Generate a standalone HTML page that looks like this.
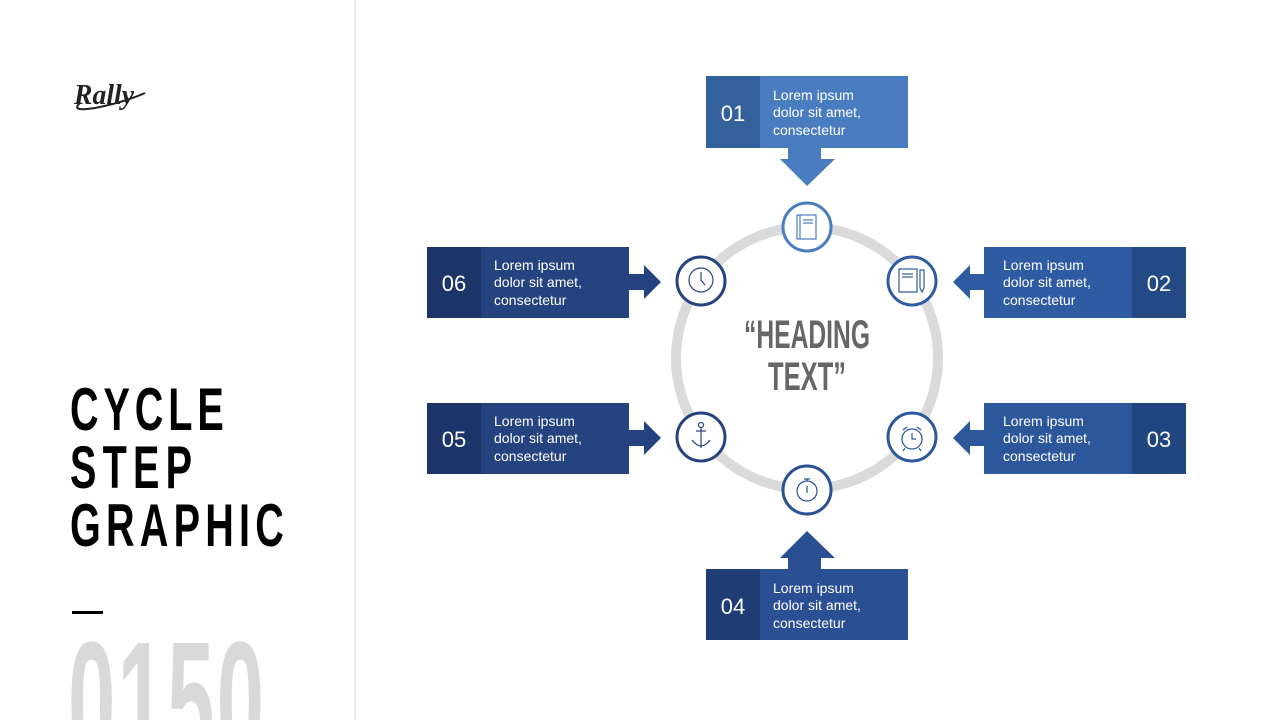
<!DOCTYPE html>
<html><head><meta charset="utf-8"><style>
html,body{margin:0;background:#fff;width:1280px;height:720px;overflow:hidden;}
svg{display:block}
</style></head><body>
<svg width="1280" height="720" viewBox="0 0 1280 720" xmlns="http://www.w3.org/2000/svg" font-family="Liberation Sans, sans-serif">
<rect width="1280" height="720" fill="#fff"/>
<line x1="355" y1="0" x2="355" y2="720" stroke="#e3e3e3" stroke-width="1.5"/>
<text x="74" y="104" font-family="Liberation Serif, serif" font-style="italic" font-weight="bold" font-size="28" fill="#222" textLength="60" lengthAdjust="spacingAndGlyphs">Rally</text>
<path d="M80 103 Q70 112 95 108 Q125 102 145 93" fill="none" stroke="#222" stroke-width="2"/>
<g font-weight="bold" fill="#000" font-size="60">
<text transform="translate(70,430) scale(0.66,1)" textLength="233" lengthAdjust="spacing">CYCLE</text>
<text transform="translate(70,488) scale(0.66,1)" textLength="185" lengthAdjust="spacing">STEP</text>
<text transform="translate(70,546) scale(0.66,1)" textLength="324" lengthAdjust="spacing">GRAPHIC</text>
</g>
<rect x="72" y="611" width="31" height="3" fill="#000"/>
<text transform="translate(68,760) scale(0.5,1)" font-weight="bold" font-size="170" fill="#d9d9d9" textLength="392" lengthAdjust="spacing">0150</text>
<circle cx="807" cy="358" r="131" fill="none" stroke="#dadada" stroke-width="10"/>
<text x="807" y="348" text-anchor="middle" font-weight="bold" font-size="40" fill="#666" textLength="126" lengthAdjust="spacingAndGlyphs">“HEADING</text>
<text x="807" y="390" text-anchor="middle" font-weight="bold" font-size="40" fill="#666" textLength="78" lengthAdjust="spacingAndGlyphs">TEXT”</text>
<g font-size="14" fill="#fff">
<rect x="706" y="76" width="202" height="72" fill="#4a7dbf"/><rect x="706" y="76" width="54" height="72" fill="#34619c"/>
<polygon points="788,147 821,147 821,159 835,159 807,186 780,159 788,159" fill="#4a7dbf"/>
<text x="733" y="121" text-anchor="middle" font-size="22">01</text>
<text x="773" y="100">Lorem ipsum</text><text x="773" y="117">dolor sit amet,</text><text x="773" y="135">consectetur</text>

<rect x="984" y="247" width="202" height="71" fill="#2e5ba1"/><rect x="1132" y="247" width="54" height="71" fill="#234a85"/>
<polygon points="984,274 970,274 970,265 953,282 970,299 970,290 984,290" fill="#2e5ba1"/>
<text x="1159" y="291" text-anchor="middle" font-size="22">02</text>
<text x="1003" y="270">Lorem ipsum</text><text x="1003" y="287">dolor sit amet,</text><text x="1003" y="305">consectetur</text>

<rect x="984" y="403" width="202" height="71" fill="#2c579b"/><rect x="1132" y="403" width="54" height="71" fill="#21457e"/>
<polygon points="984,430 970,430 970,421 953,438 970,455 970,446 984,446" fill="#2c579b"/>
<text x="1159" y="447" text-anchor="middle" font-size="22">03</text>
<text x="1003" y="426">Lorem ipsum</text><text x="1003" y="443">dolor sit amet,</text><text x="1003" y="461">consectetur</text>

<rect x="706" y="569" width="202" height="71" fill="#2a4f93"/><rect x="706" y="569" width="54" height="71" fill="#1f3d74"/>
<polygon points="788,569 821,569 821,558 835,558 807,531 780,558 788,558" fill="#2a4f93"/>
<text x="733" y="614" text-anchor="middle" font-size="22">04</text>
<text x="773" y="593">Lorem ipsum</text><text x="773" y="610">dolor sit amet,</text><text x="773" y="628">consectetur</text>

<rect x="427" y="403" width="202" height="71" fill="#25437f"/><rect x="427" y="403" width="54" height="71" fill="#1c3467"/>
<polygon points="628,430 644,430 644,421 661,438 644,455 644,446 628,446" fill="#25437f"/>
<text x="454" y="447" text-anchor="middle" font-size="22">05</text>
<text x="494" y="426">Lorem ipsum</text><text x="494" y="443">dolor sit amet,</text><text x="494" y="461">consectetur</text>

<rect x="427" y="247" width="202" height="71" fill="#25437f"/><rect x="427" y="247" width="54" height="71" fill="#1c3467"/>
<polygon points="628,274 644,274 644,265 661,282 644,299 644,290 628,290" fill="#25437f"/>
<text x="454" y="291" text-anchor="middle" font-size="22">06</text>
<text x="494" y="270">Lorem ipsum</text><text x="494" y="287">dolor sit amet,</text><text x="494" y="305">consectetur</text>
</g>
<g fill="#fff" stroke-width="3">
<circle cx="807" cy="227" r="24" stroke="#4a7dbf"/>
<circle cx="912" cy="281" r="24" stroke="#2e5ba1"/>
<circle cx="912" cy="437" r="24" stroke="#2c579b"/>
<circle cx="807" cy="490" r="24" stroke="#2a4f93"/>
<circle cx="701" cy="437" r="24" stroke="#25437f"/>
<circle cx="701" cy="281" r="24" stroke="#25437f"/>
</g>
<g fill="none" stroke-width="1.2">
<g stroke="#4a7dbf"><rect x="797" y="215" width="19" height="24"/><line x1="800" y1="215" x2="800" y2="239"/><line x1="803" y1="220" x2="813" y2="220"/><line x1="803" y1="223" x2="813" y2="223"/></g>
<g stroke="#2e5ba1"><rect x="899" y="269" width="18" height="23"/><line x1="902" y1="274" x2="913" y2="274"/><line x1="902" y1="277" x2="913" y2="277"/><path d="M920 270 h4 v18 l-2 4 l-2 -4 z"/></g>
<g stroke="#2c579b"><circle cx="912" cy="439" r="10"/><path d="M912 433 v6 h4"/><path d="M903 430 l4 -3 M921 430 l-4 -3 M905 448 l-2 3 M919 448 l2 3"/></g>
<g stroke="#2a4f93"><circle cx="807" cy="491" r="10"/><path d="M804 479 h6 M807 479 v2 M807 486 v7"/></g>
<g stroke="#25437f"><circle cx="701" cy="425" r="2.5"/><path d="M701 428 v20 M696 431 h10 M692 440 q9 12 18 0"/></g>
<g stroke="#25437f"><circle cx="701" cy="280" r="12"/><path d="M701 272 v8 l4 5"/></g>
</g>
</svg>
</body></html>
